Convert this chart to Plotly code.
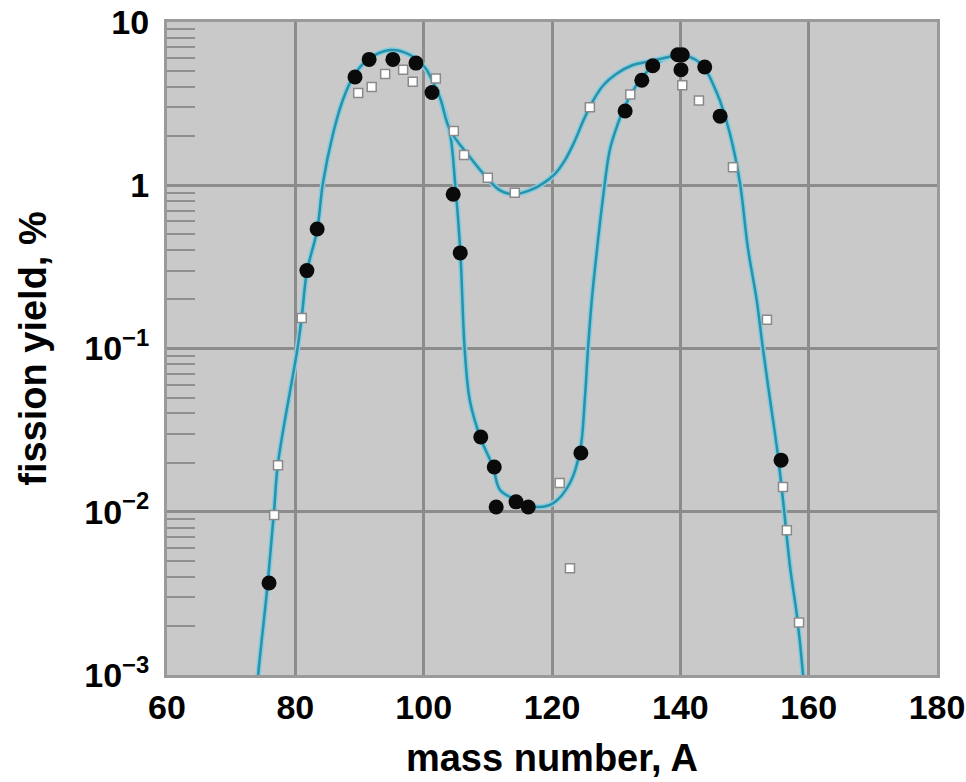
import plotly.graph_objects as go

# ---------------- data ----------------
# Fitted curve, deep-valley distribution (mass number, yield %)
curve1_A = [73.9, 74.2, 75.7, 76.7, 77.3, 80.3, 81.0, 81.8, 83.4, 84.3, 85.9, 87.4, 89.0,
            91.2, 94.8, 97.9, 100.5, 102.5, 104.1, 104.9, 105.7, 106.4, 107.2, 108.8, 110.8,
            111.9, 114.5, 117.7, 120.2, 122.8, 124.4, 125.1, 125.6, 126.2, 127.0, 127.9, 129.0,
            130.1, 131.1, 133.7, 136.4, 139.5, 143.1, 145.7, 147.7, 149.3, 150.5, 151.9, 152.9,
            154.0, 155.1, 156.0, 157.1, 158.2, 159.1, 159.4]
curve1_Y = [0.0007, 0.001, 0.00366, 0.0103, 0.0199, 0.098, 0.156, 0.294, 0.532, 1.03, 2.09,
            3.33, 4.6, 5.85, 6.74, 6.28, 5.08, 3.47, 2.09, 1.03, 0.40, 0.098, 0.048, 0.0287, 0.0188,
            0.0136, 0.0118, 0.0107, 0.0113, 0.015, 0.0239, 0.048, 0.098, 0.198, 0.40, 0.81, 1.64,
            2.28, 2.89, 4.41, 5.61, 6.28, 5.61, 3.67, 2.09, 1.03, 0.42, 0.198, 0.098,
            0.048, 0.0239, 0.0118, 0.0046, 0.00226, 0.00103, 0.0007]

# Fitted curve, shallow-valley distribution (only the part that differs)
curve2_A = [100.5, 102.5, 104.1, 107.2, 109.2, 111.9, 114.0, 116.5, 118.5, 120.5, 122.0, 123.5,
            125.0, 126.5, 128.0, 130.0, 132.6, 135.3, 139.5]
curve2_Y = [5.08, 3.47, 2.18, 1.49, 1.19, 0.93, 0.88, 0.93, 1.02, 1.18, 1.42, 1.85,
            2.55, 3.35, 4.1, 4.8, 5.45, 5.75, 6.28]

# Measured points (black circles)
circ_A = [75.9, 81.8, 83.4, 89.3, 91.5, 95.2, 98.8, 101.3, 104.6, 105.7, 108.9, 111.0, 111.3,
          114.4, 116.3, 124.5, 131.4, 134.0, 135.7, 139.6, 140.3, 140.1, 143.8, 146.2, 155.7]
circ_Y = [0.00366, 0.30, 0.54, 4.6, 5.9, 5.9, 5.6, 3.7, 0.88, 0.385, 0.0287, 0.0188, 0.0107,
          0.0115, 0.0107, 0.0229, 2.85, 4.4, 5.4, 6.3, 6.3, 5.1, 5.3, 2.65, 0.0207]

# Measured points (white squares)
sq_A = [76.7, 77.3, 81.0, 89.8, 91.9, 94.0, 96.8, 98.3, 101.9, 104.7, 106.3, 110.0, 114.2,
        121.2, 122.8, 125.9, 132.2, 140.3, 142.9, 148.2, 153.5, 156.0, 156.6, 158.5]
sq_Y = [0.00955, 0.0193, 0.154, 3.67, 4.0, 4.8, 5.1, 4.3, 4.5, 2.15, 1.53, 1.11, 0.90,
        0.015, 0.0045, 3.0, 3.6, 4.1, 3.3, 1.29, 0.150, 0.0142, 0.0077, 0.0021]

x_ticks = [60, 80, 100, 120, 140, 160, 180]
y_ticks = [0.001, 0.01, 0.1, 1, 10]
y_ticktext = ["10<sup>−3</sup>", "10<sup>−2</sup>", "10<sup>−1</sup>", "1", "10"]
minor_vals = [m * 10 ** e for e in range(-3, 1) for m in range(2, 10)]

FONT = "Liberation Sans, Arial, Helvetica, sans-serif"
HALO = "#86cddd"
CORE = "#2a91ab"

fig = go.Figure()
for A, Y in [(curve1_A, curve1_Y), (curve2_A, curve2_Y)]:
    fig.add_trace(go.Scatter(x=A, y=Y, mode="lines",
                             line=dict(color=HALO, width=5.5, shape="spline", smoothing=1.0),
                             hoverinfo="skip", showlegend=False))
    fig.add_trace(go.Scatter(x=A, y=Y, mode="lines",
                             line=dict(color=CORE, width=2.5, shape="spline", smoothing=1.0),
                             showlegend=False))

fig.add_trace(go.Scatter(x=sq_A, y=sq_Y, mode="markers",
                         marker=dict(symbol="square", size=9, color="white",
                                     line=dict(color="#8a8a8a", width=1.5)),
                         showlegend=False))
fig.add_trace(go.Scatter(x=circ_A, y=circ_Y, mode="markers",
                         marker=dict(symbol="circle", size=15, color="#0a0a0a",
                                     line=dict(width=0)),
                         showlegend=False))

# invisible trace to drive minor tick axis
fig.add_trace(go.Scatter(x=[60], y=[1], yaxis="y2", mode="markers",
                         marker=dict(opacity=0), hoverinfo="skip", showlegend=False))

fig.update_layout(
    width=966, height=782,
    margin=dict(l=167, r=29, t=22, b=107, autoexpand=False),
    paper_bgcolor="white",
    plot_bgcolor="#c9c9c9",
    xaxis=dict(range=[60, 180], tickvals=x_ticks, showgrid=True, gridcolor="#8c8c8c",
               gridwidth=3, zeroline=False, showline=True, linecolor="#9a9a9a", linewidth=3,
               mirror=True, ticks="", ticklabelstandoff=0, automargin=False,
               ticklabeloverflow="allow",
               tickfont=dict(family=FONT, size=34, color="black", weight="bold"),
               title=dict(text="mass number, A", standoff=20,
                          font=dict(family=FONT, size=38, color="black", weight="bold"))),
    yaxis=dict(type="log", range=[-3, 1], tickvals=y_ticks, ticktext=y_ticktext,
               showgrid=True, gridcolor="#8c8c8c", gridwidth=3, zeroline=False,
               showline=True, linecolor="#9a9a9a", linewidth=3, mirror=True, ticks="",
               ticklabelstandoff=8, automargin=False, ticklabeloverflow="allow",
               tickfont=dict(family=FONT, size=34, color="black", weight="bold"),
               title=dict(text="fission yield, %", standoff=26,
                          font=dict(family=FONT, size=38, color="black", weight="bold"))),
    yaxis2=dict(type="log", range=[-3, 1], overlaying="y", side="left", anchor="x",
                tickvals=minor_vals, ticks="inside", ticklen=28, tickwidth=2,
                tickcolor="#8f8f8f", showticklabels=False, showgrid=False, zeroline=False,
                showline=False, automargin=False),
)

fig.write_html("out.html")
